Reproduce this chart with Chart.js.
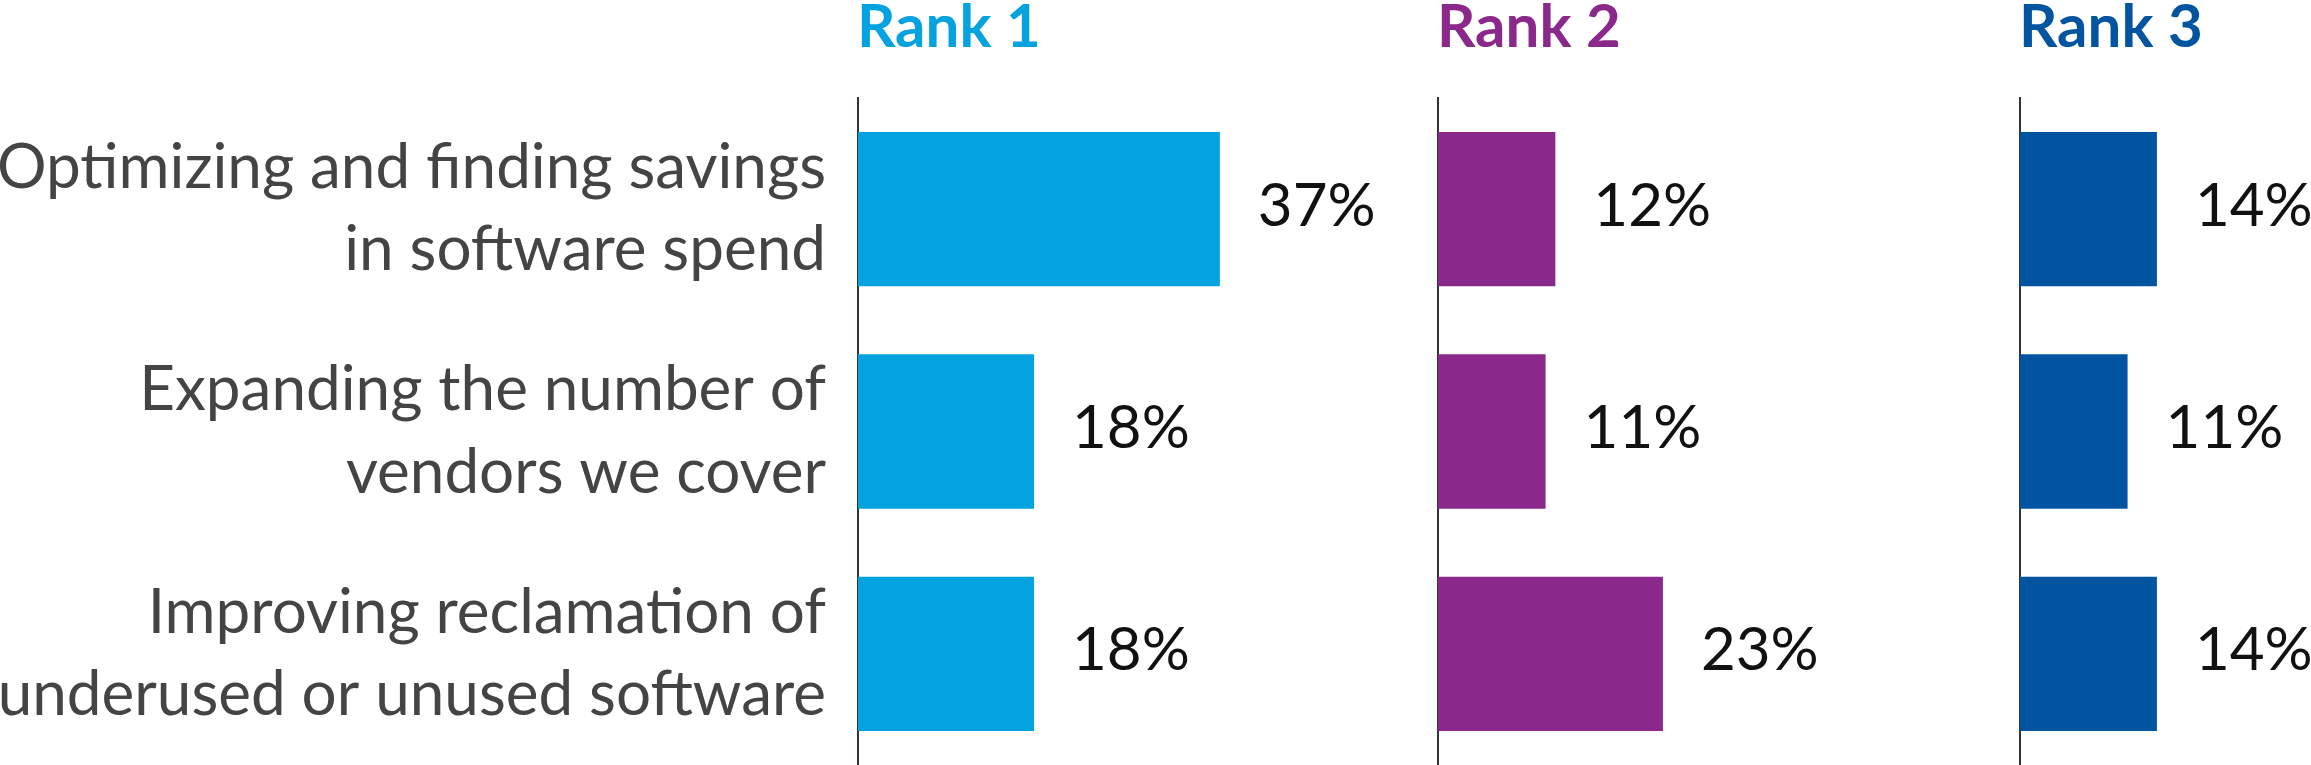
<!DOCTYPE html>
<html>
<head>
<meta charset="utf-8">
<script src="https://cdn.jsdelivr.net/npm/chart.js@4"></script>
<style>
  html, body { margin: 0; padding: 0; background: #fff; overflow: hidden; }
  body { width: 2311px; height: 765px; position: relative; }
  canvas { position: absolute; top: 0; }
</style>
</head>
<body>
<canvas id="rank1Chart" width="1438" height="765" style="left:0px"></canvas>
<canvas id="rank2Chart" width="592" height="765" style="left:1428px"></canvas>
<canvas id="rank3Chart" width="301" height="765" style="left:2010px"></canvas>
<script>
const categories = [
  ['Optimizing and finding savings', 'in software spend'],
  ['Expanding the number of', 'vendors we cover'],
  ['Improving reclamation of', 'underused or unused software']
];
const rankTitles = ['Rank 1', 'Rank 2', 'Rank 3'];
const rank1Values = [37, 18, 18];
const rank2Values = [12, 11, 23];
const rank3Values = [14, 11, 14];
const rankColors = ['#04A3E0', '#8B288C', '#01549F'];

const PX_PER_PCT = 9.78; // same bar scale in all three panels

// value labels next to each bar + the coloured rank heading
const rankLabels = {
  id: 'rankLabels',
  afterDatasetsDraw(chart, args, opts) {
    const ctx = chart.ctx;
    const meta = chart.getDatasetMeta(0);
    const values = chart.data.datasets[0].data;
    ctx.save();
    ctx.font = '60px Lato';
    ctx.fillStyle = '#111';
    ctx.textBaseline = 'middle';
    ctx.textAlign = 'left';
    meta.data.forEach((bar, i) => {
      ctx.fillText(values[i] + '%', bar.x + 38, bar.y - 3);
    });
    ctx.font = 'bold 60px Lato';
    ctx.fillStyle = opts.color;
    ctx.textBaseline = 'alphabetic';
    ctx.fillText(opts.title, chart.chartArea.left - 1, 47);
    ctx.restore();
  }
};

function makeRankChart(canvasId, values, color, title, axisWidth, showLabels) {
  const canvas = document.getElementById(canvasId);
  const areaWidth = canvas.width - axisWidth;
  return new Chart(canvas, {
    type: 'bar',
    data: {
      labels: categories,
      datasets: [{
        data: values,
        backgroundColor: color,
        barPercentage: 0.694,
        categoryPercentage: 1
      }]
    },
    options: {
      indexAxis: 'y',
      responsive: false,
      animation: false,
      layout: { padding: { top: 98, bottom: 0, left: 0, right: 0 } },
      scales: {
        x: {
          display: false,
          min: 0,
          max: areaWidth / PX_PER_PCT
        },
        y: {
          grid: { display: false, drawTicks: false },
          border: { display: true, color: '#2f3440', width: 2 },
          ticks: {
            display: showLabels,
            padding: 32,
            color: '#444444',
            font: { family: 'Lato', size: 62, lineHeight: 1.33 }
          },
          afterFit(scale) {
            scale.width = axisWidth;
            // tall two-line labels must not shrink the plot area
            scale.paddingTop = 0;
            scale.paddingBottom = 0;
          }
        }
      },
      plugins: {
        legend: { display: false },
        tooltip: { enabled: false },
        rankLabels: { color: color, title: title }
      }
    },
    plugins: [rankLabels]
  });
}

document.addEventListener('DOMContentLoaded', () => {
  makeRankChart('rank1Chart', rank1Values, rankColors[0], rankTitles[0], 858, true);
  makeRankChart('rank2Chart', rank2Values, rankColors[1], rankTitles[1], 10, false);
  makeRankChart('rank3Chart', rank3Values, rankColors[2], rankTitles[2], 10, false);
});
</script>
</body>
</html>
